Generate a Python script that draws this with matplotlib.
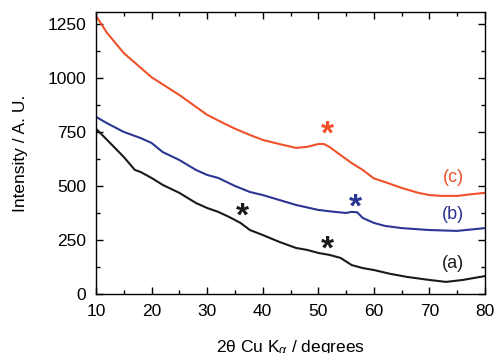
import numpy as np
import matplotlib.pyplot as plt
from matplotlib.ticker import MultipleLocator

plt.rcParams['font.family'] = ['Liberation Sans', 'DejaVu Sans']
plt.rcParams['mathtext.fontset'] = 'custom'
plt.rcParams['mathtext.rm'] = 'Liberation Sans'
plt.rcParams['mathtext.it'] = 'Liberation Sans:italic'

## (c) orange
xc = [10, 12, 15, 20, 25, 30, 33, 35, 37.7, 40, 43, 46, 48, 50, 51, 52, 54, 56, 58, 60, 62, 65, 68, 70, 72, 75, 78, 80]
yc = [1287, 1208, 1115, 1003, 921, 829, 790, 765, 736, 713, 694, 676, 681, 694, 694, 681, 643, 606, 574, 535, 518, 491, 468, 458, 454, 454, 463, 468]

## (b) blue
xb = [10, 12, 15, 18, 20, 22, 25, 28, 30, 32, 35, 37.7, 40, 43, 46, 50, 53, 55, 56, 57, 58, 60, 62, 65, 70, 75, 80]
yb = [820, 790, 750, 722, 699, 657, 620, 574, 551, 537, 500, 472, 458, 435, 412, 389, 380, 375, 380, 378, 352, 329, 315, 305, 296, 292, 305]

## (a) black
xa = [10, 12, 15, 17, 18, 20, 22, 25, 28, 30, 32, 34, 36, 37.7, 40, 43, 46, 48, 50, 52, 54, 56, 58, 60, 63, 66, 70, 73, 76, 80]
ya = [765, 713, 634, 574, 565, 537, 505, 468, 421, 398, 380, 356, 329, 296, 273, 241, 213, 204, 190, 181, 167, 134, 120, 111, 93, 79, 65, 56, 65, 83]

c_col = '#f0512a'
b_col = '#2b3592'
a_col = '#1a1a1a'

fig = plt.figure(figsize=(4.96, 3.53), dpi=100)
ax = fig.add_axes([96/496, 1-294/353, 389/496, 282/353])

ax.plot(xc, yc, color=c_col, lw=1.5)
ax.plot(xb, yb, color=b_col, lw=1.5)
ax.plot(xa, ya, color=a_col, lw=1.5)

# peak marks
stars = [(51.6, 737, c_col), (56.6, 399, b_col), (51.6, 205, a_col), (36.3, 358, a_col)]
for sx, sy, sc in stars:
    ax.text(sx, sy, '*', color=sc, fontsize=24, fontweight='bold', ha='center', va='center')

ax.text(74.3, 537, '(c)', color=c_col, fontsize=13, ha='center', va='center')
ax.text(74.3, 366, '(b)', color=b_col, fontsize=13, ha='center', va='center')
ax.text(74.3, 143, '(a)', color=a_col, fontsize=13, ha='center', va='center')

ax.set_xlim(10, 80)
ax.set_ylim(0, 1305)
ax.xaxis.set_major_locator(MultipleLocator(10))
ax.xaxis.set_minor_locator(MultipleLocator(5))
ax.yaxis.set_major_locator(MultipleLocator(250))
ax.yaxis.set_minor_locator(MultipleLocator(125))
ax.tick_params(which='both', direction='in', top=True, right=True, labelsize=12.5, width=1)
ax.tick_params(which='major', length=5, pad=7)
ax.tick_params(which='minor', length=3)
for s in ax.spines.values():
    s.set_linewidth(1)

ax.set_ylabel('Intensity / A. U.', fontsize=12.5, labelpad=14)
ax.set_xlabel(r'2θ Cu K$_{\alpha}$ / degrees', fontsize=12.5, labelpad=14)

fig.savefig('out.png', dpi=100)
